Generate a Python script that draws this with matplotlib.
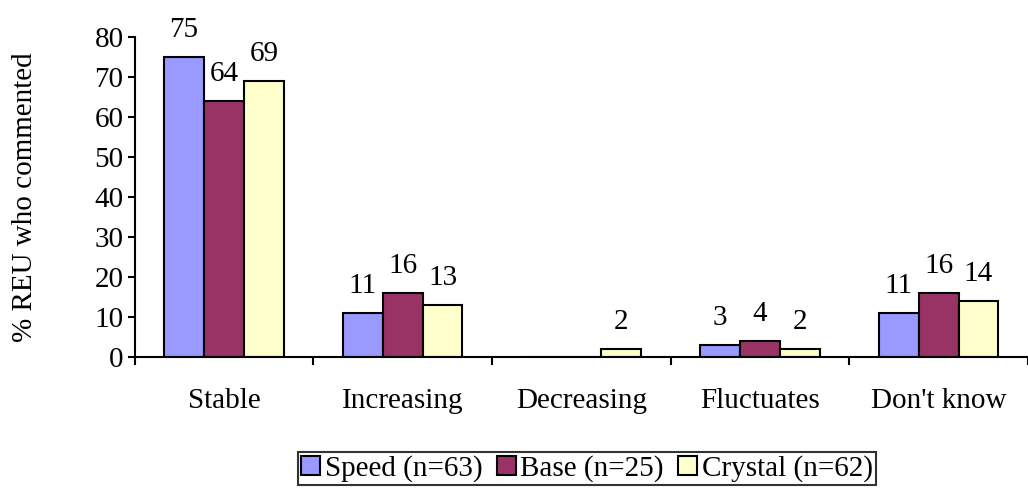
import numpy as np
import matplotlib
matplotlib.use("Agg")
import matplotlib.pyplot as plt

categories = ["Stable", "Increasing", "Decreasing", "Fluctuates", "Don't know"]
series_names = ["Speed (n=63)", "Base (n=25)", "Crystal (n=62)"]
speed = [75, 11, 0, 3, 11]
base = [64, 16, 0, 4, 16]
crystal = [69, 13, 2, 2, 14]
colors = ["#9999FF", "#993366", "#FFFFCC"]

plt.rcParams["font.family"] = ["Liberation Serif", "DejaVu Serif"]
plt.rcParams["font.size"] = 21

fig = plt.figure(figsize=(10.28, 4.88), dpi=100)
ax = fig.add_axes([0.131, 0.268, 0.869, 0.656])

x = np.arange(len(categories))
w = 0.223
for i, (vals, name, col) in enumerate(zip([speed, base, crystal], series_names, colors)):
    pos = x + (i - 1) * w
    bars = ax.bar(pos, vals, w, color=col, edgecolor="black", linewidth=1.5, label=name)
    for b, v in zip(bars, vals):
        if v > 0:
            ax.text(b.get_x() + b.get_width() / 2, v + 3.6, str(v),
                    ha="center", va="bottom")

ax.set_xlim(-0.5, 4.44)
ax.set_ylim(0, 80)
ax.set_yticks(range(0, 81, 10))
ax.set_xticks(x)
ax.set_xticklabels(categories)
ax.set_xticks(np.arange(-0.5, 5, 1), minor=True)
ax.tick_params(axis="x", which="major", length=0, pad=22)
ax.tick_params(axis="x", which="minor", length=6, width=1.5, direction="out")
ax.tick_params(axis="y", length=5, width=1.5, direction="out", pad=3)

for s in ["top", "right"]:
    ax.spines[s].set_visible(False)
for s in ["left", "bottom"]:
    ax.spines[s].set_linewidth(1.5)

ax.set_ylabel("% REU who commented")
ax.yaxis.set_label_coords(-0.108, 0.5)

handles, labels = ax.get_legend_handles_labels()
leg = fig.legend(handles, labels, loc="lower center", bbox_to_anchor=(0.571, 0.0),
                 ncol=3, frameon=True, fancybox=False, edgecolor="black",
                 handlelength=0.65, handleheight=0.65, handletextpad=0.15,
                 columnspacing=0.5, borderpad=0.1, borderaxespad=0.1)
leg.get_frame().set_linewidth(1.5)

fig.savefig("out.png", dpi=100)
